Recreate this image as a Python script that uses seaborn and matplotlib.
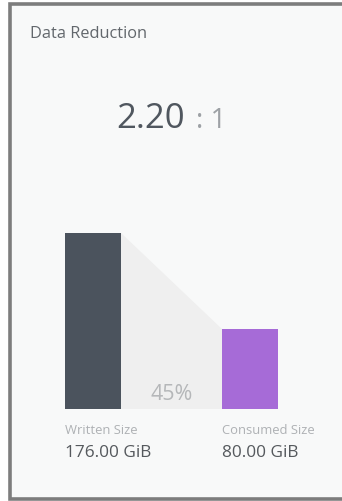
import matplotlib
matplotlib.use("Agg")
import matplotlib.pyplot as plt
from matplotlib.patches import Rectangle, Polygon
import seaborn as sns

# Values shown on the card
title = "Data Reduction"
ratio_main = "2.20"
ratio_tail = ": 1"
categories = ["Written Size", "Consumed Size"]
sizes_gib = [176.0, 80.0]
size_labels = ["176.00 GiB", "80.00 GiB"]
reduction_label = "45%"

bar_colors = ["#4b535d", "#a66bd7"]

W, H = 342, 502
sns.set_theme(style="white")
plt.rcParams["font.family"] = ["Open Sans", "DejaVu Sans"]

fig = plt.figure(figsize=(W / 100, H / 100), dpi=100)
fig.patch.set_facecolor("white")

def fx(px):
    return px / W

def fy(py):
    return 1 - py / H

# card background with border, kept beneath the axes
fig.patches.append(Rectangle((fx(9.5), fy(499.5)), fx(W + 10) - fx(9.5), fy(5) - fy(499.5),
                             transform=fig.transFigure, facecolor="#f8f9f9",
                             edgecolor="#7d7d7d", linewidth=2.6, zorder=-5))

# bar axes: covers the whole figure, 1 GiB = 1 pixel, baseline at y=410
ax = fig.add_axes([0, 0, 1, 1])
ax.set_zorder(1)
ax.set_facecolor("none")
sns.barplot(x=categories, y=sizes_gib, hue=categories, palette=bar_colors,
            saturation=1, width=0.357, legend=False, ax=ax, zorder=3,
            linewidth=0)
c0, step = 93.0, 157.0
ax.set_xlim((0 - c0) / step, (W - c0) / step)
ax.set_ylim(-(H - 410), 410)
ax.axis("off")

# shaded reduction wedge between the two bars
p0, p1 = ax.patches[0], ax.patches[1]
x0 = p0.get_x() + p0.get_width()
x1 = p1.get_x()
wedge = Polygon([(x0, 0), (x0, p0.get_height()), (x1, p1.get_height()), (x1, 0)],
                closed=True, facecolor="#efefef", edgecolor="none", zorder=1)
ax.add_patch(wedge)

# texts
fig.text(fx(30), fy(38), title, fontsize=11.8, color="#62676c", va="baseline")
fig.text(fx(116), fy(128), ratio_main, fontsize=25, color="#50575f", va="baseline")
fig.text(fx(196), fy(128), ratio_tail, fontsize=20, color="#9da1a5", va="baseline")
ax.text((x0 + x1) / 2, 10, reduction_label, fontsize=15.5, color="#b5b7b9",
        ha="center", va="baseline", zorder=4)

for p, cat, lab in zip(ax.patches[:2], categories, size_labels):
    left_px = p.get_x() * step + c0
    fig.text(fx(left_px), fy(434), cat, fontsize=9.4, color="#aeb1b4", va="baseline")
    fig.text(fx(left_px), fy(457), lab, fontsize=12.4, color="#55595d", va="baseline")

fig.savefig("out.png", dpi=100, facecolor=fig.get_facecolor())
